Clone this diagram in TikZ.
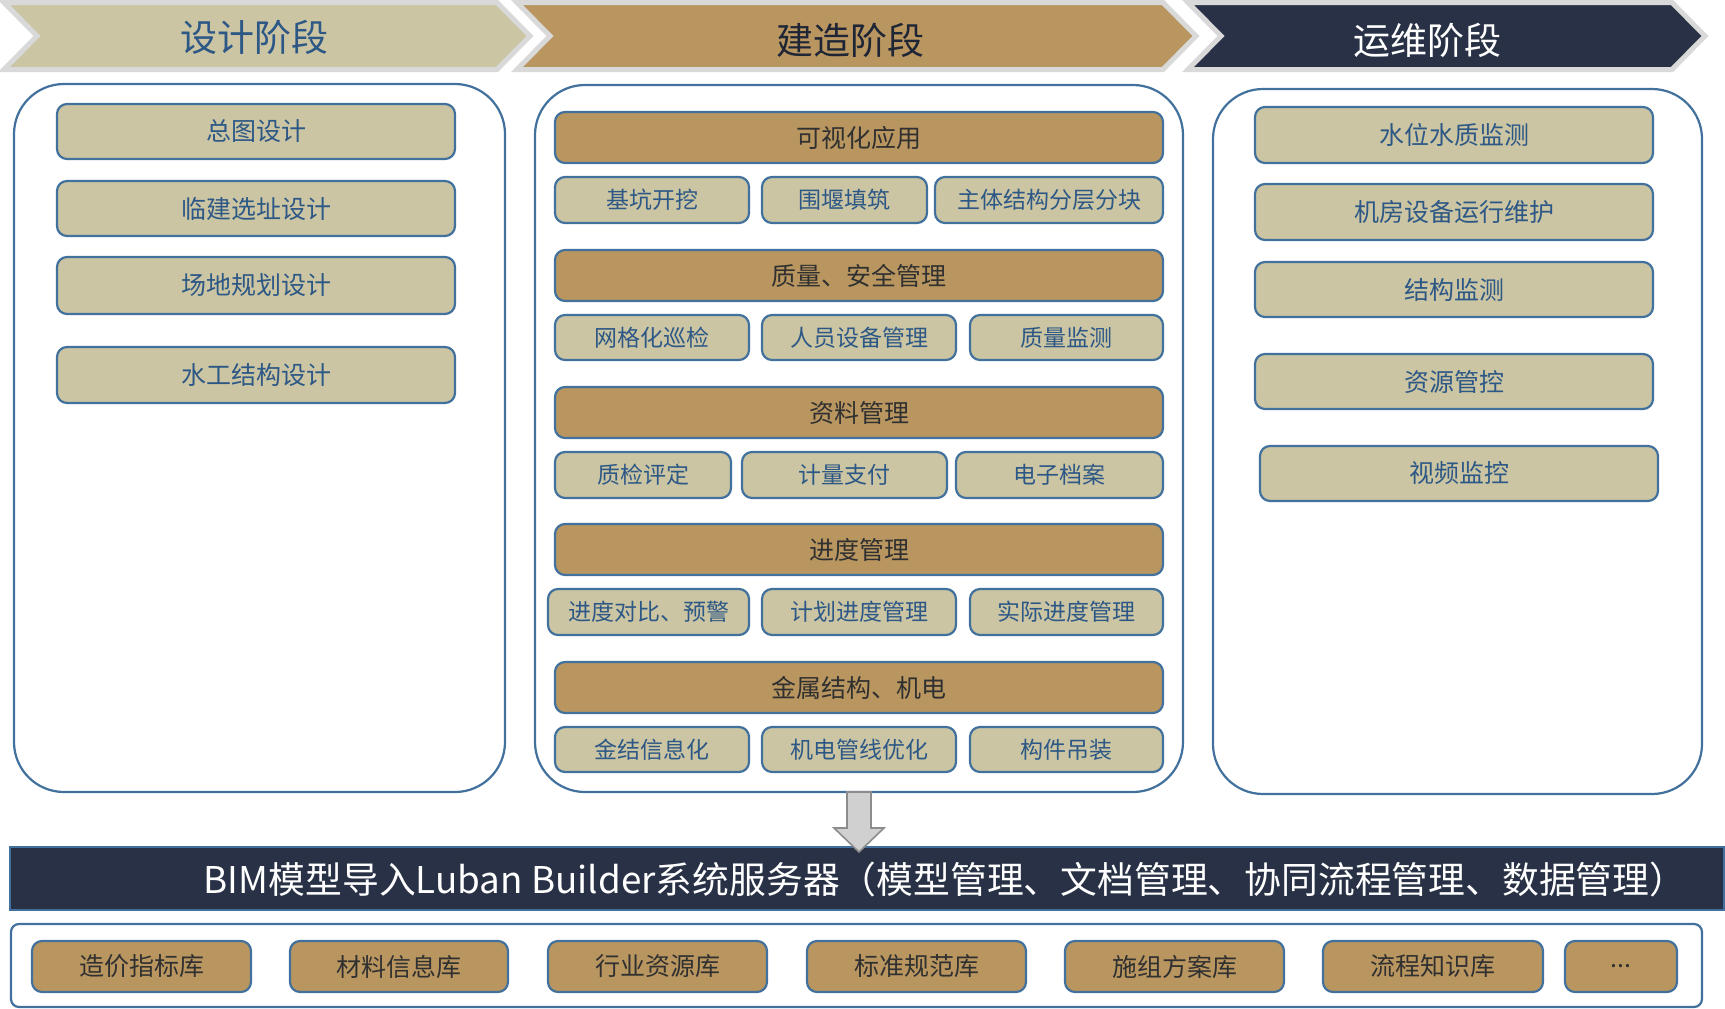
\documentclass[tikz,border=0pt]{standalone}
\usepackage{fontspec}
\setmainfont{Noto Sans CJK SC}
\usetikzlibrary{calc}
\definecolor{beige}{HTML}{CBC5A3}
\definecolor{ochre}{HTML}{B99660}
\definecolor{navy}{HTML}{283145}
\definecolor{bblue}{HTML}{41719C}
\definecolor{tblue}{HTML}{2D5886}
\definecolor{dtext}{HTML}{303030}
\definecolor{chevgray}{HTML}{D9D9D9}
\definecolor{arrfill}{HTML}{D0D0D0}
\definecolor{arrdraw}{HTML}{8C8C8C}
\definecolor{chevtwo}{HTML}{1E2535}
\newcommand{\fchev}{\fontsize{18.5}{20}\selectfont}
\newcommand{\fbig}{\fontsize{12.5}{14}\selectfont}
\newcommand{\fsmall}{\fontsize{11.5}{13}\selectfont}
\newcommand{\fbar}{\fontsize{18.4}{20}\selectfont}
\newcommand{\bx}[7]{%
  \pgfmathsetmacro{\cxx}{(#2+#4)/2}%
  \pgfmathsetmacro{\cyy}{(#3+#5)/2}%
  \pgfmathsetmacro{\ww}{(#4-#2)*0.5}%
  \pgfmathsetmacro{\hh}{(#5-#3)*0.5}%
  \node[#6, minimum width=\ww pt, minimum height=\hh pt] (#1) at (\cxx,\cyy) {#7};}
\tikzset{
  base/.style={inner sep=0pt, outer sep=0pt, line width=1.1pt, draw=bblue},
  col/.style={base, rounded corners=25pt, fill=white},
  lbox/.style={base, rounded corners=5pt, fill=beige, text=tblue, font=\fbig},
  sbox/.style={base, rounded corners=5pt, fill=beige, text=tblue, font=\fsmall},
  obar/.style={base, rounded corners=5pt, fill=ochre, text=dtext, font=\fbig},
  libbox/.style={base, rounded corners=5pt, fill=ochre, text=dtext, font=\fbig},
  cont/.style={base, rounded corners=4pt, fill=white},
  darkbar/.style={base, fill=navy},
  chev/.style={draw=chevgray, line width=2.5pt, line join=miter},
  chevtext/.style={inner sep=0pt, font=\fchev},
  barrow/.style={fill=arrfill, draw=arrdraw, line width=0.8pt, line join=miter}
}
\begin{document}
\begin{tikzpicture}[x=0.5pt, y=-0.5pt]
\useasboundingbox[fill=white] (0,0) rectangle (1725,1008);
% phase chevrons
\draw[chev, fill=beige] (4,2.5) -- (497,2.5) -- (530,36) -- (497,69.5) -- (4,69.5) -- (37,36) -- cycle;
\draw[chev, fill=ochre] (517,2.5) -- (1163,2.5) -- (1196,36) -- (1163,69.5) -- (517,69.5) -- (550,36) -- cycle;
\draw[chev, fill=navy] (1188,2.5) -- (1672,2.5) -- (1705,36) -- (1672,69.5) -- (1188,69.5) -- (1221,36) -- cycle;
\node[chevtext, text=tblue] (p1) at (254,37) {设计阶段};
\node[chevtext, text=chevtwo] (p2) at (850,40) {建造阶段};
\node[chevtext, text=white] (p3) at (1427,40) {运维阶段};
% columns
\bx{L}{14}{84}{505}{792}{col}{}
\bx{M}{535}{85}{1183}{792}{col}{}
\bx{R}{1213}{89}{1702}{794}{col}{}
% left column
\bx{L1}{57}{104}{455}{159}{lbox}{总图设计}
\bx{L2}{57}{181}{455}{236}{lbox}{临建选址设计}
\bx{L3}{57}{257}{455}{314}{lbox}{场地规划设计}
\bx{L4}{57}{347}{455}{403}{lbox}{水工结构设计}
% middle column
\bx{B1}{555}{112}{1163}{163}{obar}{可视化应用}
\bx{a1}{555}{177}{749}{223}{sbox}{基坑开挖}
\bx{a2}{762}{177}{927}{223}{sbox}{围堰填筑}
\bx{a3}{935}{177}{1163}{223}{sbox}{主体结构分层分块}
\bx{B2}{555}{250}{1163}{301}{obar}{质量、安全管理}
\bx{b1}{555}{315}{749}{360}{sbox}{网格化巡检}
\bx{b2}{762}{315}{956}{360}{sbox}{人员设备管理}
\bx{b3}{970}{315}{1163}{360}{sbox}{质量监测}
\bx{B3}{555}{387}{1163}{438}{obar}{资料管理}
\bx{c1}{555}{452}{731}{498}{sbox}{质检评定}
\bx{c2}{742}{452}{947}{498}{sbox}{计量支付}
\bx{c3}{956}{452}{1163}{498}{sbox}{电子档案}
\bx{B4}{555}{524}{1163}{575}{obar}{进度管理}
\bx{d1}{548}{589}{749}{635}{sbox}{进度对比、预警}
\bx{d2}{762}{589}{956}{635}{sbox}{计划进度管理}
\bx{d3}{970}{589}{1163}{635}{sbox}{实际进度管理}
\bx{B5}{555}{662}{1163}{713}{obar}{金属结构、机电}
\bx{e1}{555}{727}{749}{772}{sbox}{金结信息化}
\bx{e2}{762}{727}{956}{772}{sbox}{机电管线优化}
\bx{e3}{970}{727}{1163}{772}{sbox}{构件吊装}
% right column
\bx{R1}{1255}{107}{1653}{163}{lbox}{水位水质监测}
\bx{R2}{1255}{184}{1653}{240}{lbox}{机房设备运行维护}
\bx{R3}{1255}{262}{1653}{317}{lbox}{结构监测}
\bx{R4}{1255}{354}{1653}{409}{lbox}{资源管控}
\bx{R5}{1260}{446}{1658}{501}{lbox}{视频监控}
% server bar
\bx{bar}{10}{847}{1724}{910}{darkbar}{}
\node[inner sep=0pt, text=white, font=\fbar] (bartext) at (945,880) {BIM模型导入Luban Builder系统服务器（模型管理、文档管理、协同流程管理、数据管理）};
% arrow from construction column to server bar
\draw[barrow] ($(M.south)+(-12,0)$) -- ($(M.south)+(12,0)$) -- ($(M.south)+(12,36)$) -- ($(M.south)+(25,36)$)
  -- ($(M.south |- bar.north)+(0,5)$) -- ($(M.south)+(-25,36)$) -- ($(M.south)+(-12,36)$) -- cycle;
% libraries
\bx{K}{11}{924}{1702}{1007}{cont}{}
\bx{k1}{32}{941}{251}{992}{libbox}{造价指标库}
\bx{k2}{290}{941}{508}{992}{libbox}{材料信息库}
\bx{k3}{548}{941}{767}{992}{libbox}{行业资源库}
\bx{k4}{807}{941}{1026}{992}{libbox}{标准规范库}
\bx{k5}{1065}{941}{1284}{992}{libbox}{施组方案库}
\bx{k6}{1323}{941}{1543}{992}{libbox}{流程知识库}
\bx{k7}{1565}{941}{1677}{992}{libbox}{...}
\end{tikzpicture}
\end{document}
